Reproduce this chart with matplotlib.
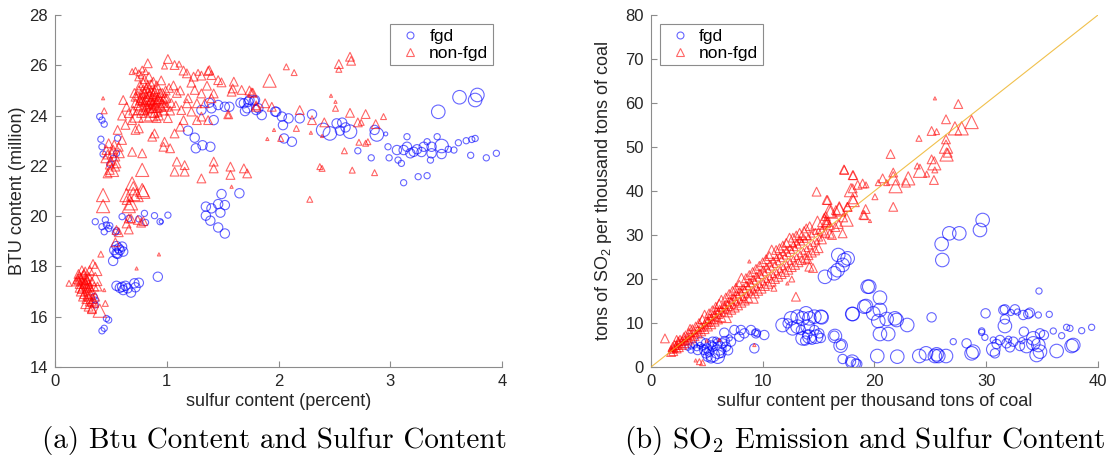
import numpy as np
import matplotlib
matplotlib.use("Agg")
import matplotlib.pyplot as plt
from matplotlib.lines import Line2D

plt.rcParams['font.family'] = ['Liberation Sans', 'DejaVu Sans']
plt.rcParams['mathtext.fontset'] = 'custom'
plt.rcParams['mathtext.rm'] = 'Liberation Sans'
plt.rcParams['mathtext.it'] = 'Liberation Sans:italic'

# %% data: rows are (x, y, size class 1..4)
# (a) sulfur content (percent) vs BTU content (million)
a_fgd = np.array([
    (.40, 23.96, 2), (.42, 23.82, 2), (.44, 23.66, 2), (.41, 23.06, 2), (.56, 23.10, 2),
    (.42, 22.76, 2), (.43, 22.47, 2), (.49, 22.06, 2), (.52, 22.30, 2), (.55, 22.50, 2),
    (.36, 19.78, 2), (.45, 19.85, 2), (.46, 19.65, 2), (.42, 19.58, 2), (.49, 19.62, 2),
    (.44, 19.38, 2), (.55, 19.42, 2), (.60, 19.98, 2), (.66, 19.91, 2), (.75, 19.89, 2),
    (.80, 20.11, 2), (.81, 19.75, 2), (.89, 20.02, 2), (.94, 19.78, 2), (.95, 19.78, 1),
    (1.01, 20.04, 2), (.48, 19.51, 2), (.54, 19.36, 2),
    (.53, 18.65, 3), (.57, 18.72, 3), (.60, 18.79, 3), (.61, 18.59, 3), (.55, 18.52, 3),
    (.52, 18.22, 3), (.58, 18.65, 3), (.55, 18.81, 3), (.56, 18.50, 3), (.92, 17.59, 3),
    (.55, 17.23, 3), (.60, 17.19, 3), (.63, 17.23, 3), (.61, 17.06, 3), (.68, 16.96, 3),
    (.71, 17.33, 3), (.75, 17.35, 3), (.72, 17.17, 3), (.65, 17.13, 3), (.58, 17.15, 3),
    (.36, 16.66, 2), (.36, 16.47, 2), (.35, 16.80, 2),
    (.46, 15.93, 2), (.48, 15.87, 2), (.44, 15.54, 2), (.42, 15.44, 2),
    (1.49, 20.88, 3), (1.65, 20.91, 3), (1.35, 20.38, 3), (1.40, 20.31, 3), (1.46, 20.48, 3),
    (1.52, 20.44, 3), (1.48, 20.14, 3), (1.35, 20.02, 3), (1.39, 19.82, 3), (1.46, 19.55, 3),
    (1.52, 19.31, 3),
    (1.19, 23.40, 3), (1.25, 23.12, 3), (1.32, 22.82, 3), (1.39, 22.76, 3), (1.26, 22.70, 3),
    (1.38, 24.51, 3), (1.40, 24.29, 3), (1.46, 24.42, 3), (1.31, 24.22, 3), (1.42, 23.82, 3),
    (1.52, 24.35, 3), (1.56, 24.35, 3), (1.66, 24.51, 3), (1.69, 24.49, 3), (1.72, 24.29, 3),
    (1.73, 24.55, 3), (1.78, 24.59, 3), (1.80, 24.22, 3), (1.85, 24.02, 3), (1.70, 24.18, 3),
    (1.97, 24.16, 3), (1.74, 24.62, 3), (1.79, 24.62, 3), (1.82, 24.29, 3), (1.98, 24.15, 3),
    (2.03, 23.96, 3), (2.04, 23.62, 3), (2.09, 23.89, 3), (2.19, 23.89, 3), (2.30, 24.05, 3),
    (2.05, 23.09, 3), (2.12, 22.96, 3), (2.40, 23.43, 4), (2.46, 23.29, 4), (2.52, 23.69, 3),
    (2.57, 23.72, 3), (2.60, 23.53, 3), (2.64, 23.36, 4), (2.55, 23.40, 3), (2.86, 23.43, 3),
    (2.88, 23.25, 4), (2.96, 23.27, 1), (2.71, 22.60, 2), (2.83, 22.32, 2),
    (3.62, 24.73, 4), (3.78, 24.82, 4), (3.76, 24.62, 4), (3.43, 24.15, 4), (3.42, 23.16, 2),
    (3.12, 21.33, 2), (3.25, 21.57, 2), (3.33, 21.61, 2), (3.95, 22.50, 2), (3.86, 22.32, 2),
    (3.72, 22.42, 2), (3.68, 23.00, 2), (3.73, 23.05, 2), (3.76, 23.09, 2), (3.61, 22.92, 2),
    (3.52, 22.66, 2), (3.57, 22.63, 2), (2.99, 22.32, 2), (2.98, 22.76, 2),
    (3.06, 22.63, 3), (3.15, 22.76, 3), (3.18, 22.50, 3), (3.24, 22.66, 3), (3.30, 22.76, 3),
    (3.37, 22.76, 3), (3.46, 22.79, 4), (3.37, 22.50, 3), (3.46, 22.47, 3), (3.15, 23.16, 2),
    (3.07, 22.23, 2), (3.10, 22.10, 2), (3.36, 22.23, 2), (3.33, 22.96, 2), (3.21, 22.56, 3),
    (3.12, 22.63, 3), (3.28, 22.55, 3),
])

a_nonfgd = np.array([
    (.20, 17.50, 3), (.22, 17.60, 3), (.24, 17.40, 3), (.26, 17.70, 3), (.28, 17.50, 3),
    (.30, 17.30, 3), (.25, 17.20, 3), (.22, 17.30, 3), (.27, 17.80, 3), (.30, 17.60, 3),
    (.33, 17.40, 3), (.35, 17.20, 3), (.23, 17.00, 3), (.26, 16.90, 3), (.29, 17.00, 3),
    (.32, 16.90, 3), (.28, 16.70, 3), (.31, 16.60, 3), (.34, 16.70, 3), (.36, 16.80, 3),
    (.30, 16.40, 3), (.33, 16.30, 3), (.27, 16.50, 3), (.25, 16.80, 3), (.21, 17.70, 3),
    (.19, 17.40, 3), (.24, 17.85, 3), (.36, 17.50, 4), (.38, 17.20, 3), (.34, 18.10, 3),
    (.36, 17.90, 4), (.125, 17.33, 2), (.41, 18.49, 2), (.40, 16.24, 4), (.33, 16.33, 3),
    (.44, 17.06, 1), (.45, 16.53, 2), (.29, 17.15, 3), (.26, 17.45, 3), (.31, 17.85, 3),
    (.21, 17.45, 3), (.23, 17.55, 3), (.25, 17.65, 3), (.27, 17.35, 3), (.29, 17.45, 3),
    (.31, 17.20, 3), (.24, 17.10, 3), (.28, 17.25, 3), (.32, 17.05, 3), (.26, 17.30, 3),
    (.30, 16.80, 3), (.33, 16.60, 3), (.35, 16.55, 3), (.29, 16.85, 3), (.22, 17.15, 3),
    (.46, 22.63, 3), (.51, 22.50, 3), (.48, 22.90, 3), (.57, 22.76, 3), (.58, 22.50, 3),
    (.60, 23.03, 3), (.69, 22.56, 3), (.78, 22.50, 3), (.54, 22.37, 3), (.51, 21.84, 4),
    (.47, 21.70, 3), (.49, 21.84, 3), (.54, 21.97, 3), (.45, 22.30, 3), (.50, 22.20, 3),
    (.52, 22.65, 3), (.55, 22.10, 3), (.47, 22.45, 3), (.53, 22.85, 3), (.49, 22.05, 3),
    (.43, 20.84, 4), (.43, 20.40, 4), (.64, 20.84, 4), (.70, 20.88, 4), (.73, 20.84, 4),
    (.79, 20.97, 4), (.66, 20.40, 4), (.68, 20.51, 4), (.64, 20.64, 3), (.69, 21.30, 4),
    (.70, 21.11, 4), (.78, 21.84, 4), (.78, 21.04, 4), (.66, 19.91, 3), (.68, 19.91, 3),
    (.74, 19.85, 3), (.77, 19.74, 3), (.79, 19.80, 3), (.66, 19.47, 3), (.57, 19.36, 3),
    (.55, 19.45, 3), (.64, 19.71, 3), (.54, 18.96, 3), (.73, 17.92, 1), (.93, 18.48, 1),
    (.56, 23.43, 3), (.63, 23.63, 3), (.69, 23.82, 3), (.75, 23.49, 3), (.72, 23.43, 3),
    (.61, 24.62, 3), (.64, 24.35, 3), (.44, 24.19, 2), (.43, 24.69, 1), (.60, 24.00, 3),
    (.66, 24.10, 3),
    (.70, 24.20, 3), (.72, 24.50, 3), (.74, 24.80, 3), (.76, 24.30, 4), (.78, 24.60, 3),
    (.80, 24.90, 3), (.82, 24.40, 3), (.84, 24.70, 4), (.86, 25.00, 3), (.88, 24.50, 3),
    (.90, 24.80, 3), (.92, 24.30, 3), (.94, 24.60, 3), (.96, 24.90, 3), (.98, 24.40, 3),
    (1.00, 24.70, 3), (1.02, 25.10, 3), (1.04, 24.50, 3), (.75, 25.00, 3), (.79, 25.30, 3),
    (.83, 25.20, 3), (.87, 24.20, 4), (.91, 25.20, 3), (.95, 25.40, 3), (.99, 25.00, 3),
    (1.03, 24.20, 3), (.73, 24.00, 4), (.77, 24.10, 3), (.81, 24.00, 4), (.85, 24.30, 3),
    (.89, 24.10, 3), (.93, 24.00, 3), (.97, 24.20, 3), (.80, 24.55, 3), (.84, 24.45, 3),
    (.88, 24.85, 3), (.92, 24.65, 3), (.86, 24.60, 3), (.82, 24.75, 3), (.90, 24.40, 3),
    (.94, 24.90, 3), (.78, 24.85, 3), (.83, 24.95, 3), (.87, 24.75, 3), (.85, 24.55, 3),
    (.89, 24.65, 3), (.69, 25.75, 2), (.72, 25.80, 2), (.75, 25.70, 2), (.78, 25.85, 2),
    (.81, 25.75, 2), (.74, 25.50, 2), (.77, 25.60, 2), (.80, 25.45, 3), (.84, 25.55, 3),
    (.88, 25.35, 3), (1.06, 25.20, 3), (1.09, 24.90, 3), (1.12, 25.00, 3), (1.08, 24.40, 3),
    (.71, 24.90, 3), (.76, 25.20, 3), (.91, 23.90, 3), (1.01, 23.90, 3),
    (.79, 24.35, 3), (.81, 24.65, 3), (.83, 24.25, 3), (.85, 24.85, 3), (.87, 24.45, 3),
    (.89, 24.95, 3), (.91, 24.55, 3), (.93, 24.75, 3), (.95, 24.35, 3), (.97, 24.65, 3),
    (.77, 24.70, 3), (.79, 25.05, 3), (.82, 25.10, 3), (.86, 25.25, 3), (.90, 25.05, 3),
    (.74, 24.40, 3), (.76, 24.60, 3), (.88, 24.30, 3), (.92, 24.15, 3), (.96, 24.50, 3),
    (.86, 24.05, 4), (.80, 24.20, 3), (.98, 24.75, 3), (1.00, 24.35, 3), (.72, 24.75, 3),
    (.83, 26.08, 3), (1.01, 26.25, 3), (1.07, 26.01, 3), (1.11, 26.05, 2), (.98, 25.97, 2),
    (1.37, 25.77, 3), (1.38, 25.81, 3), (1.28, 25.72, 2), (1.15, 25.79, 3), (1.18, 25.68, 3),
    (1.24, 25.55, 3), (1.31, 25.59, 3), (1.40, 25.61, 3), (1.46, 25.41, 3), (1.49, 25.32, 3),
    (1.60, 25.35, 3), (1.92, 25.39, 4), (1.31, 24.88, 3), (1.25, 25.02, 3), (1.22, 25.31, 3),
    (1.36, 25.19, 3), (1.42, 24.88, 3), (1.58, 24.95, 3), (1.67, 25.02, 3), (1.76, 24.92, 3),
    (1.88, 24.49, 3), (1.19, 24.69, 3), (1.18, 24.49, 3), (1.27, 24.49, 3), (1.34, 24.49, 3),
    (1.40, 24.69, 3), (1.13, 24.22, 3), (1.22, 24.16, 3), (1.27, 23.82, 3), (1.37, 23.82, 3),
    (1.31, 23.96, 3), (1.55, 24.02, 2), (1.90, 23.07, 1), (1.96, 23.43, 1), (.87, 23.16, 3),
    (.89, 23.29, 3), (.97, 22.76, 3), (.98, 22.96, 3), (1.07, 23.29, 3), (1.03, 22.70, 3),
    (1.12, 23.56, 3), (1.15, 23.82, 3), (1.09, 22.17, 3), (1.16, 22.03, 3), (1.16, 21.77, 3),
    (1.31, 21.50, 3), (1.42, 21.90, 3), (1.42, 22.17, 3), (1.57, 21.97, 3), (1.57, 21.64, 3),
    (1.69, 21.90, 3), (1.72, 21.70, 3), (1.58, 21.17, 1), (1.07, 21.77, 3), (1.80, 24.41, 3),
    (1.59, 25.08, 3), (1.74, 25.00, 3), (1.55, 24.05, 3), (1.77, 24.91, 3), (1.94, 24.35, 3),
    (1.80, 24.35, 3),
    (2.07, 25.94, 2), (2.14, 25.71, 2), (2.54, 26.05, 3), (2.54, 25.84, 2), (2.65, 26.18, 3),
    (2.64, 26.34, 3), (2.47, 24.79, 1), (2.51, 24.55, 1), (2.51, 24.29, 2), (2.19, 24.22, 3),
    (2.30, 23.82, 3), (2.41, 23.73, 3), (2.64, 24.11, 3), (2.78, 24.06, 3), (2.71, 23.73, 3),
    (2.74, 23.73, 2), (2.87, 23.66, 3), (2.94, 23.96, 2), (2.02, 23.09, 2), (2.16, 23.49, 2),
    (2.29, 23.32, 1), (2.39, 23.19, 1), (2.59, 22.60, 2), (2.72, 22.94, 2), (2.78, 22.90, 2),
    (2.80, 22.96, 2), (2.37, 21.97, 2), (2.39, 21.90, 2), (2.66, 21.83, 2), (2.86, 21.73, 2),
    (2.28, 20.67, 2),
])

# (b) sulfur content vs tons of SO2, per thousand tons of coal
b_fgd = np.array([
    (7.46, 8.41, 3), (8.05, 8.41, 3), (8.35, 7.65, 3), (8.95, 8.41, 3), (9.40, 7.65, 3),
    (10.14, 7.27, 3), (7.90, 6.89, 3), (9.25, 4.24, 3), (6.56, 7.80, 3), (7.16, 5.76, 3),
    (6.41, 5.38, 3), (5.97, 5.38, 3), (5.52, 5.76, 3), (4.92, 5.38, 3), (4.47, 5.76, 3),
    (3.88, 5.00, 2), (3.58, 3.86, 2), (4.18, 3.86, 3), (4.77, 3.86, 3), (5.22, 3.48, 3),
    (5.52, 2.73, 4), (5.37, 1.97, 3), (5.97, 2.35, 4), (5.97, 3.48, 4), (5.52, 4.62, 3),
    (6.71, 4.62, 3), (6.11, 4.24, 4), (5.07, 2.35, 3), (4.92, 3.10, 3), (3.30, 4.50, 2),
    (3.60, 4.80, 2), (4.10, 4.40, 2), (4.40, 4.90, 2), (4.60, 4.50, 2), (5.00, 4.20, 3),
    (5.40, 4.90, 3), (6.30, 3.20, 3), (6.60, 5.90, 3), (7.00, 6.60, 2), (5.80, 6.10, 2),
    (6.90, 3.80, 3), (9.35, 7.80, 2), (9.50, 7.60, 2),
    (11.78, 9.54, 4), (12.68, 8.79, 4), (12.53, 11.06, 4), (13.12, 11.44, 4), (13.57, 11.06, 4),
    (13.87, 12.20, 4), (14.17, 11.06, 4), (14.62, 11.44, 4), (15.21, 11.44, 4), (13.12, 9.17, 4),
    (13.42, 8.41, 3), (14.02, 9.17, 4), (13.57, 6.51, 4), (14.17, 6.89, 4), (14.77, 6.89, 4),
    (15.06, 7.65, 3), (14.62, 8.41, 3), (12.23, 9.92, 3), (16.41, 7.12, 3), (17.00, 5.00, 3),
    (13.80, 6.00, 3), (14.40, 6.20, 3), (15.20, 6.60, 3), (14.00, 7.40, 3),
    (16.76, 25.45, 4), (17.30, 24.30, 4), (17.60, 24.70, 4), (17.15, 23.20, 4), (16.70, 22.00, 4),
    (16.40, 21.30, 4), (15.57, 20.50, 4), (18.05, 12.05, 4), (19.09, 13.70, 4), (19.39, 18.25, 4),
    (15.27, 11.29, 4), (16.46, 7.05, 4), (16.97, 4.85, 4), (17.15, 1.82, 3), (18.01, 1.21, 4),
    (18.46, 0.68, 3), (17.90, 1.21, 3), (18.34, 0.83, 3), (19.53, 18.26, 4), (20.49, 15.76, 4),
    (19.24, 13.86, 4), (20.49, 12.96, 4), (19.89, 12.20, 4), (21.09, 10.91, 4), (20.34, 10.45, 4),
    (21.98, 10.68, 4), (21.83, 11.06, 4), (22.93, 9.55, 4), (18.01, 12.05, 4), (20.49, 7.50, 4),
    (21.23, 7.50, 4), (20.25, 2.50, 4), (22.04, 2.35, 4), (24.01, 2.50, 4), (24.61, 3.11, 4),
    (25.41, 2.50, 4), (25.71, 2.50, 4), (25.56, 2.88, 4), (26.40, 2.50, 4), (25.11, 11.29, 3),
    (28.24, 5.38, 3), (28.69, 3.11, 4), (28.84, 3.49, 4), (29.94, 12.20, 3), (27.05, 5.76, 2),
    (30.63, 4.00, 4), (29.59, 7.88, 2), (29.88, 6.74, 2),
    (29.44, 31.14, 4), (29.68, 33.41, 4), (27.59, 30.38, 4), (26.69, 30.38, 4), (26.01, 27.96, 4),
    (26.07, 24.32, 4),
    (31.53, 12.96, 3), (31.67, 13.11, 3), (32.57, 13.11, 3), (33.31, 11.82, 3), (33.76, 12.05, 3),
    (33.91, 12.35, 3), (34.66, 11.82, 2), (35.64, 11.97, 2), (34.72, 17.27, 2), (31.67, 9.32, 4),
    (31.67, 10.83, 3), (33.37, 8.03, 3), (34.21, 6.52, 4), (34.81, 7.65, 3), (35.16, 7.27, 3),
    (34.21, 5.38, 4), (33.61, 4.77, 4), (34.66, 5.00, 4), (34.51, 2.73, 4), (34.81, 3.49, 4),
    (36.30, 3.64, 4), (37.64, 4.77, 4), (37.79, 5.00, 4), (36.00, 8.18, 2), (36.75, 7.12, 2),
    (37.19, 9.02, 2), (37.49, 8.79, 2), (38.54, 8.26, 2), (39.43, 9.02, 2), (31.23, 6.14, 3),
    (31.82, 5.38, 3), (32.42, 5.76, 3), (33.02, 4.77, 3), (30.63, 6.14, 2), (30.93, 5.23, 3),
    (32.12, 4.47, 3), (30.78, 3.11, 3), (32.00, 6.30, 2), (33.20, 6.00, 2), (32.80, 12.50, 2),
    (32.20, 12.40, 2), (29.60, 8.20, 2),
])

b_nonfgd = np.array([
    (1.8, 3.4, 3), (1.8, 4.2, 2), (1.9, 3.8, 2), (1.95, 4.6, 3),
    (2.0, 3.6, 3), (2.0, 4.4, 2), (2.1, 5.0, 3), (2.15, 4.0, 2),
    (2.3, 4.2, 3), (2.3, 5.2, 2), (2.4, 4.7, 2), (2.45, 5.8, 3),
    (2.5, 4.5, 3), (2.5, 5.6, 2), (2.6, 6.2, 3), (2.65, 5.0, 2),
    (2.8, 5.0, 3), (2.8, 6.2, 2), (2.9, 5.6, 2), (2.95, 6.8, 3),
    (3.0, 5.4, 3), (3.0, 6.4, 2), (3.1, 7.2, 3), (3.15, 5.9, 2),
    (3.3, 6.0, 3), (3.3, 7.0, 2), (3.4, 7.8, 3), (3.45, 6.5, 2),
    (3.6, 6.5, 3), (3.6, 7.6, 2), (3.7, 8.6, 3), (3.75, 7.0, 2),
    (3.9, 7.0, 3), (3.9, 8.2, 2), (4.0, 9.2, 3), (4.05, 7.6, 2),
    (4.2, 7.6, 3), (4.2, 8.8, 2), (4.3, 10.0, 3), (4.35, 8.2, 2),
    (4.5, 8.1, 3), (4.5, 9.4, 2), (4.6, 10.8, 3), (4.65, 8.8, 2),
    (4.8, 8.6, 3), (4.8, 10.0, 2), (4.8, 11.4, 4), (4.95, 9.3, 2), (4.95, 10.7, 2),
    (5.1, 9.2, 3), (5.1, 10.7, 2), (5.2, 12.2, 3), (5.25, 9.9, 2), (5.25, 11.4, 2),
    (5.4, 9.7, 3), (5.4, 11.3, 2), (5.5, 12.9, 3), (5.55, 10.5, 2), (5.55, 12.0, 2),
    (5.7, 10.3, 3), (5.7, 12.0, 2), (5.8, 13.7, 3), (5.85, 11.1, 2), (5.85, 12.8, 2),
    (6.0, 10.8, 3), (6.0, 12.6, 2), (6.1, 14.4, 3), (6.15, 11.7, 2), (6.15, 13.4, 2),
    (6.3, 11.3, 3), (6.3, 13.2, 2), (6.3, 14.8, 4), (6.45, 12.2, 2), (6.45, 14.0, 2),
    (6.6, 11.6, 4), (6.6, 13.9, 2), (6.7, 15.8, 3), (6.75, 12.9, 2), (6.75, 14.7, 2),
    (6.9, 12.4, 3), (6.9, 14.5, 2), (7.0, 16.6, 3), (7.05, 13.5, 2), (7.05, 15.4, 2),
    (7.2, 13.0, 3), (7.2, 15.1, 2), (7.3, 17.3, 3), (7.35, 14.0, 2), (7.35, 16.1, 2),
    (7.5, 13.5, 3), (7.5, 15.8, 2), (7.6, 18.0, 3), (7.65, 14.7, 2), (7.65, 16.9, 2),
    (7.8, 14.0, 3), (7.8, 16.4, 2), (7.9, 18.7, 3), (7.95, 15.2, 2), (7.95, 17.5, 2),
    (8.1, 14.6, 3), (8.1, 17.0, 2), (8.1, 19.8, 4), (8.25, 15.8, 2), (8.25, 18.2, 2),
    (8.4, 15.1, 3), (8.4, 17.6, 2), (8.5, 20.2, 3), (8.55, 16.4, 2), (8.55, 18.9, 2),
    (8.7, 15.7, 3), (8.7, 18.3, 2), (8.8, 20.9, 3), (8.85, 17.0, 2), (8.85, 19.6, 2),
    (9.0, 16.0, 4), (9.0, 18.9, 2), (9.1, 21.6, 3), (9.15, 17.5, 2), (9.15, 20.2, 2),
    (9.3, 16.7, 3), (9.3, 19.5, 2), (9.4, 22.3, 3), (9.45, 18.1, 2), (9.45, 20.9, 2),
    (9.6, 17.3, 3), (9.6, 20.2, 2), (9.7, 23.0, 3), (9.75, 18.7, 2), (9.75, 21.6, 2),
    (9.9, 17.8, 3), (9.9, 20.8, 2), (10.0, 23.8, 3), (10.05, 19.3, 2), (10.05, 22.3, 2),
    (10.2, 18.4, 3), (10.2, 21.4, 2), (10.3, 24.5, 3), (10.35, 19.9, 2), (10.35, 22.9, 2),
    (10.5, 18.9, 3), (10.5, 22.1, 2), (10.6, 25.2, 3), (10.65, 20.5, 2), (10.65, 23.6, 2),
    (10.8, 19.4, 3), (10.8, 22.7, 2), (10.8, 26.2, 4), (10.95, 21.0, 2), (10.95, 24.3, 2),
    (11.1, 20.0, 3), (11.1, 23.3, 2), (11.2, 26.6, 3), (11.25, 21.6, 2), (11.25, 24.9, 2),
    (11.4, 20.5, 3), (11.4, 23.9, 2), (11.5, 27.0, 3), (11.55, 22.2, 2), (11.55, 25.4, 2),
    (11.7, 21.1, 3), (11.7, 24.6, 2), (11.8, 27.6, 3), (11.85, 22.8, 2), (11.85, 26.0, 2),
    (12.0, 21.6, 3), (12.0, 25.2, 2), (12.1, 28.2, 3), (12.15, 23.4, 2), (12.15, 26.6, 2),
    (12.3, 22.1, 3), (12.3, 25.8, 2), (12.4, 28.9, 4), (12.45, 24.0, 2), (12.45, 27.2, 2),
    (12.6, 22.7, 3), (12.6, 26.5, 2), (12.7, 29.4, 3), (12.75, 24.6, 2), (12.75, 27.9, 2),
    (12.9, 23.2, 3), (12.9, 27.1, 2), (13.0, 29.9, 3), (13.05, 25.1, 2), (13.05, 28.4, 2),
    (13.2, 23.8, 3), (13.2, 27.7, 2), (13.3, 30.5, 3), (13.35, 25.7, 2), (13.35, 29.0, 2),
    (13.5, 24.3, 3), (13.5, 28.4, 2), (13.7, 30.4, 4), (13.65, 26.3, 2), (13.65, 29.6, 2),
    (13.8, 24.8, 3), (13.8, 29.0, 2), (13.9, 31.5, 3), (13.95, 26.9, 2),
    (14.1, 25.4, 3), (14.1, 29.6, 2), (14.2, 32.0, 3), (14.25, 27.5, 2),
    (14.4, 26.0, 3), (14.4, 30.2, 2), (14.55, 28.1, 2),
    (14.7, 26.5, 3), (14.7, 30.8, 2), (14.85, 28.6, 2),
    (15.0, 27.0, 3), (15.0, 31.0, 2), (15.1, 29.3, 2),
    (15.3, 29.0, 3), (15.6, 30.5, 3), (16.2, 30.0, 3), (16.5, 31.8, 3), (16.8, 32.5, 3),
    (17.2, 34.0, 3), (17.5, 33.5, 4), (16.0, 32.2, 3),
    (1.25, 6.5, 3), (12.97, 15.98, 3), (17.15, 30.38, 3), (14.82, 39.85, 3), (15.8, 37.95, 3),
    (18.05, 43.6, 3), (17.3, 44.77, 3), (16.55, 35.68, 3), (16.85, 36.06, 4), (16.1, 35.3, 4),
    (17.9, 40.2, 4), (18.05, 40.6, 3), (18.5, 41.4, 3), (18.94, 41.7, 3), (19.24, 41.4, 2),
    (19.1, 34.5, 3), (15.5, 33.4, 4), (15.66, 32.65, 3), (15.8, 33.0, 3), (18.05, 37.95, 4),
    (4.33, 1.21, 2), (4.62, 0.98, 2), (9.25, 5.0, 1), (12.2, 19.0, 1), (14.17, 22.8, 3),
    (14.5, 22.5, 3), (14.9, 32.8, 4), (15.7, 33.4, 3), (15.65, 34.3, 3), (17.57, 36.4, 3),
    (16.85, 35.8, 4), (15.96, 35.5, 4), (15.72, 37.96, 3), (17.27, 44.9, 3), (18.1, 43.6, 3),
    (18.1, 38.1, 3), (17.6, 36.4, 3), (19.21, 35.9, 3), (19.0, 34.6, 3), (20.04, 38.7, 2),
    (19.6, 33.2, 1), (21.68, 36.4, 3), (20.73, 42.88, 3), (20.34, 41.9, 2), (21.09, 41.9, 2),
    (21.44, 48.41, 3), (21.68, 42.9, 4), (21.68, 44.2, 3), (21.89, 41.1, 4), (22.82, 41.9, 3),
    (23.02, 42.88, 4), (23.98, 51.97, 2), (24.07, 44.6, 4), (24.67, 43.86, 2), (23.83, 45.7, 2),
    (25.11, 47.2, 3), (25.35, 46.3, 4), (25.4, 44.8, 2), (25.32, 42.5, 3), (25.11, 53.64, 3),
    (25.56, 53.5, 2), (26.4, 51.74, 3), (26.4, 50.08, 4), (26.55, 48.7, 3), (26.45, 48.3, 4),
    (26.4, 56.3, 3), (27.2, 54.24, 4), (27.8, 54.24, 4), (28.69, 55.68, 4), (27.5, 59.77, 3),
    (25.41, 61.06, 1), (16.0, 30.3, 3), (15.3, 31.0, 3), (14.0, 24.5, 3), (12.6, 20.0, 2),
    (11.0, 17.9, 2), (8.8, 24.0, 1), (3.5, 9.0, 2), (2.3, 6.5, 2), (4.0, 1.5, 1),
    (5.0, 6.0, 1), (6.1, 6.2, 1),
])

ref_x = [0, 40]   # reference line y = 2x
ref_y = [0, 80]

# marker areas per size class
fgd_area = {1: 8, 2: 20, 3: 45, 4: 95}
nonfgd_area = {1: 5, 2: 18, 3: 40, 4: 90}

blue = (0, 0, 1, 0.6)
red = (1, 0, 0, 0.6)
spine_c = '#8c8c8c'
text_c = '#262626'

fig = plt.figure(figsize=(11.12, 4.62), dpi=100)
ax1 = fig.add_axes([0.0495, 0.2056, 0.4019, 0.7619])
ax2 = fig.add_axes([0.5854, 0.2056, 0.4020, 0.7619])


def scat(ax, d, marker, color, area):
    s = [area[int(k)] for k in d[:, 2]]
    ax.scatter(d[:, 0], d[:, 1], s=s, marker=marker, facecolors='none',
               edgecolors=[color], linewidths=0.8)


scat(ax1, a_fgd, 'o', blue, fgd_area)
scat(ax1, a_nonfgd, '^', red, nonfgd_area)
scat(ax2, b_fgd, 'o', blue, fgd_area)
scat(ax2, b_nonfgd, '^', red, nonfgd_area)
ax2.plot(ref_x, ref_y, color='#EDB120', lw=0.8, alpha=0.8, zorder=3)

ax1.set_xlim(0, 4)
ax1.set_ylim(14, 28)
ax1.set_xticks(np.arange(0, 5, 1))
ax1.set_yticks(np.arange(14, 29, 2))
ax2.set_xlim(0, 40)
ax2.set_ylim(0, 80)
ax2.set_xticks(np.arange(0, 41, 10))
ax2.set_yticks(np.arange(0, 81, 10))

ax1.set_xlabel('sulfur content (percent)', fontsize=13, color=text_c, labelpad=3)
ax1.set_ylabel('BTU content (million)', fontsize=13, color=text_c)
ax2.set_xlabel('sulfur content per thousand tons of coal', fontsize=13, color=text_c, labelpad=3)
ax2.set_ylabel('tons of SO$_2$ per thousand tons of coal', fontsize=13, color=text_c)
ax1.yaxis.set_label_coords(-0.066, 0.5)
ax2.yaxis.set_label_coords(-0.082, 0.5)

handles = [Line2D([], [], ls='none', marker='o', ms=5, mfc='none', mec=blue, mew=0.8, label='fgd'),
           Line2D([], [], ls='none', marker='^', ms=6, mfc='none', mec=red, mew=0.8, label='non-fgd')]

for ax, loc in [(ax1, 'upper right'), (ax2, 'upper left')]:
    for side in ['top', 'right']:
        ax.spines[side].set_visible(False)
    for side in ['left', 'bottom']:
        ax.spines[side].set_color(spine_c)
        ax.spines[side].set_linewidth(0.8)
    ax.tick_params(direction='in', length=4, width=0.8, color=spine_c,
                   labelsize=12, labelcolor=text_c, pad=5)
    leg = ax.legend(handles=handles, loc=loc, fontsize=12.5, borderaxespad=0.5,
                    frameon=True, fancybox=False, framealpha=1, edgecolor=spine_c,
                    handlelength=1.75, handletextpad=0.25, borderpad=0.28, labelspacing=0.1)
    leg.get_frame().set_linewidth(0.8)

fig.text(0.2464, 0.047, '(a) Btu Content and Sulfur Content', ha='center', va='center',
         fontsize=21, family='cmr10', color='black')
fig.text(0.778, 0.047, r'(b) SO$_2$ Emission and Sulfur Content', ha='center', va='center',
         fontsize=21, family='cmr10', math_fontfamily='cm', color='black')

fig.savefig('out.png', dpi=100)
